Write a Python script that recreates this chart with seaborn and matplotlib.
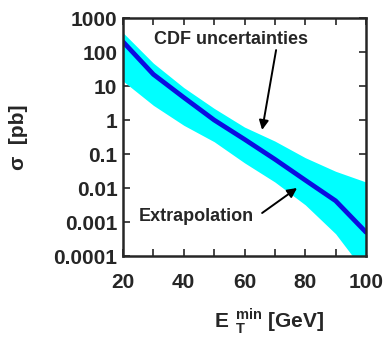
import numpy as np
import pandas as pd
import matplotlib
matplotlib.use("Agg")
import matplotlib.pyplot as plt
import seaborn as sns
from matplotlib.ticker import FixedLocator, NullLocator, FixedFormatter

# values
et_min = [20, 30, 40, 50, 60, 70, 80, 90, 100]
sigma_central = [200, 22, 4.6, 1.0, 0.27, 0.07, 0.017, 0.0042, 0.0005]
sigma_upper = [370, 47, 9, 2.2, 0.62, 0.24, 0.078, 0.031, 0.015]
sigma_lower = [14, 2.7, 0.7, 0.23, 0.055, 0.015, 0.0032, 0.00045, 0.00003]

y_ticks = [1e3, 1e2, 1e1, 1, 0.1, 0.01, 0.001, 0.0001]
y_labels = ["1000", "100", "10", "1", "0.1", "0.01", "0.001", "0.0001"]
x_ticks = [20, 40, 60, 80, 100]

df = pd.DataFrame({"ET": et_min, "sigma": sigma_central,
                   "up": sigma_upper, "lo": sigma_lower})

sns.set_style("ticks")
plt.rcParams["font.family"] = ["Liberation Sans", "DejaVu Sans"]
plt.rcParams["font.weight"] = "bold"
plt.rcParams["mathtext.fontset"] = "custom"
plt.rcParams["mathtext.bf"] = "Liberation Sans:bold"
plt.rcParams["mathtext.rm"] = "Liberation Sans:bold"

fig = plt.figure(figsize=(3.92, 3.38), dpi=100)
ax = fig.add_axes([123/392, 1-256/338, 243/392, 238/338])

# uncertainty band + central curve
ax.fill_between(df["ET"], df["lo"], df["up"], color="#00ffff", lw=0)
sns.lineplot(data=df, x="ET", y="sigma", ax=ax, color="#0c0ce0", lw=3.4)

ax.set_yscale("log")
ax.set_xlim(20, 100)
ax.set_ylim(1e-4, 1e3)

ax.yaxis.set_major_locator(FixedLocator(y_ticks))
ax.yaxis.set_major_formatter(FixedFormatter(y_labels))
ax.yaxis.set_minor_locator(NullLocator())
ax.set_xticks(x_ticks)
ax.set_xticks([30, 50, 70, 90], minor=True)
ax.tick_params(which="both", direction="in", top=True, right=True,
               length=5, width=1.2, labelsize=15)
ax.tick_params(axis="x", pad=12)
ax.tick_params(axis="y", pad=4)
for sp in ax.spines.values():
    sp.set_linewidth(1.8)
for lab in ax.get_xticklabels() + ax.get_yticklabels():
    lab.set_fontweight("bold")

ax.set_xlabel(r"$\mathbf{E\ }_{\mathbf{T}}^{\mathbf{min}}$ [GeV]",
              fontsize=15, fontweight="bold")
ax.xaxis.set_label_coords(0.6, -0.21)
ax.set_ylabel("σ  [pb]", fontsize=15, fontweight="bold")
ax.yaxis.set_label_coords(-0.39, 0.5)

# annotations
ax.text(55.6, 240, "CDF uncertainties", ha="center", va="center",
        fontsize=13, fontweight="bold")
ax.annotate("", xy=(65.8, 0.51), xytext=(70.4, 114),
            arrowprops=dict(arrowstyle="-|>", color="black", lw=1.4,
                            mutation_scale=14, shrinkA=0, shrinkB=0))
ax.text(44.0, 0.00145, "Extrapolation", ha="center", va="center",
        fontsize=13, fontweight="bold")
ax.annotate("", xy=(77.3, 0.01), xytext=(65.8, 0.00184),
            arrowprops=dict(arrowstyle="-|>", color="black", lw=1.4,
                            mutation_scale=14, shrinkA=0, shrinkB=0))

fig.savefig("out.png", dpi=100)
